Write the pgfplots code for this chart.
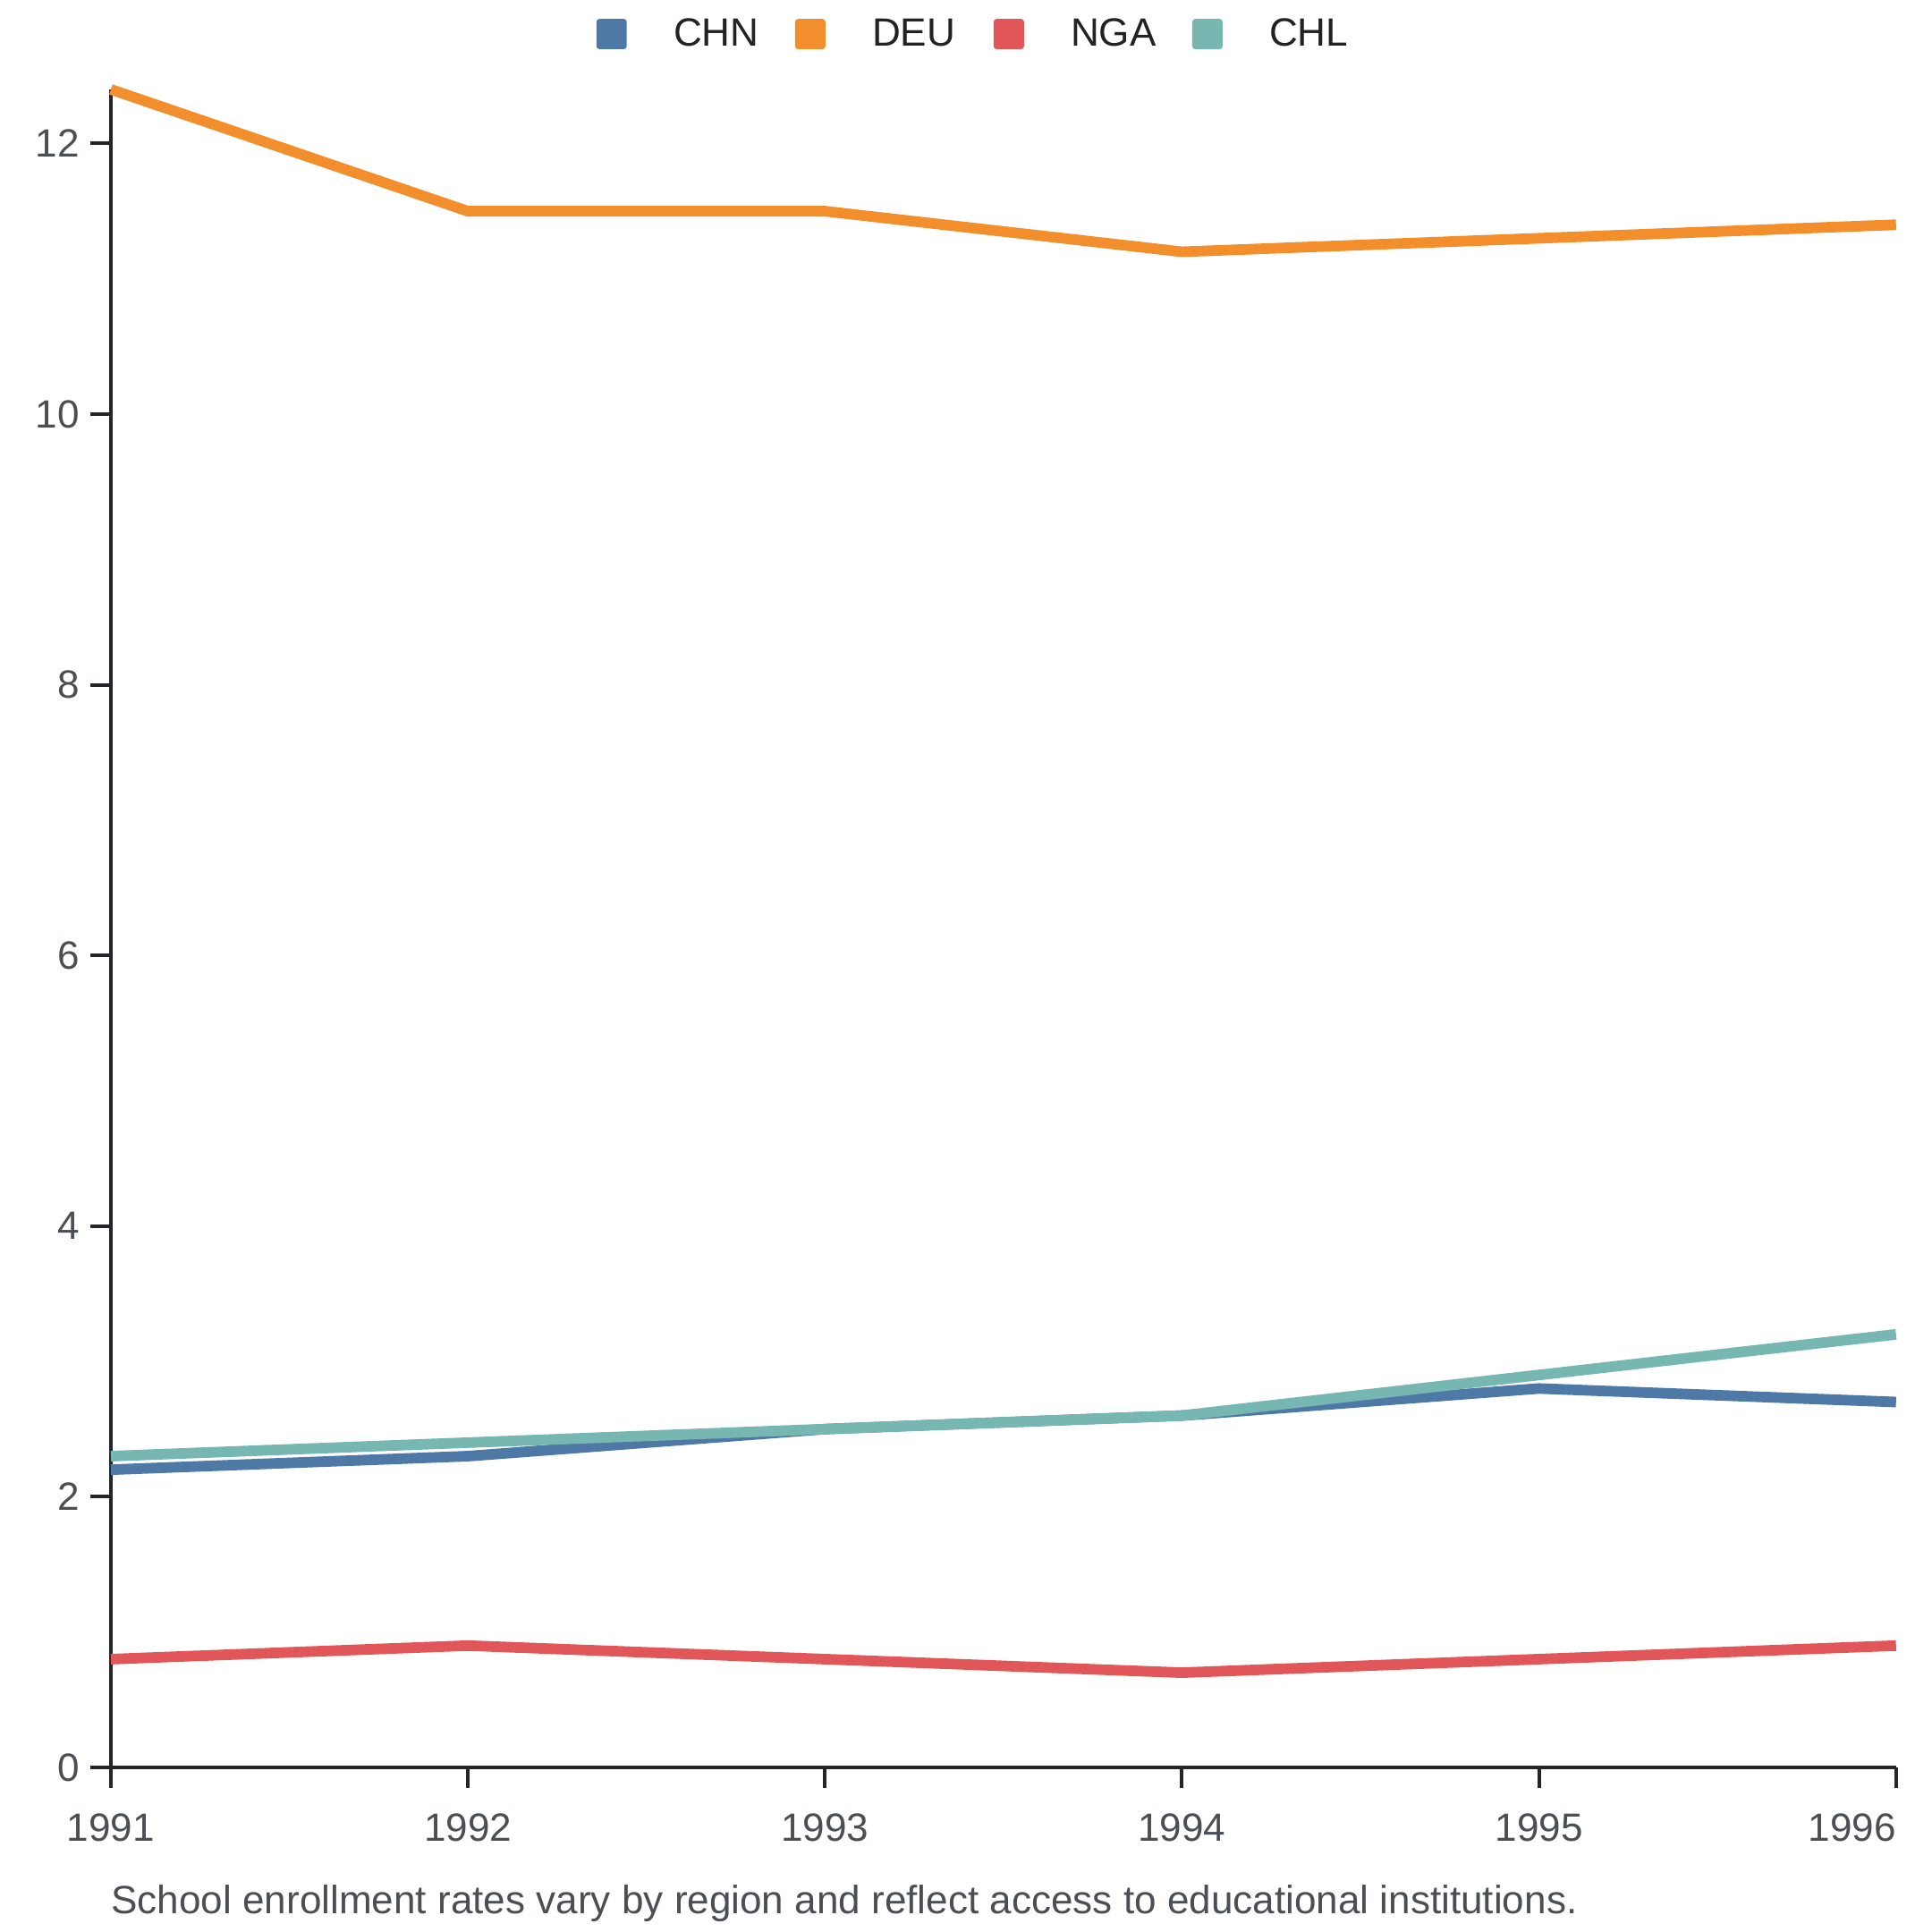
\documentclass[border=0pt]{standalone}
\usepackage{fontspec}
\setmainfont{Liberation Sans}
\usepackage{pgfplots}
\pgfplotsset{compat=1.18}
\definecolor{cCHN}{HTML}{4E79A7}
\definecolor{cDEU}{HTML}{F28E2B}
\definecolor{cNGA}{HTML}{E15759}
\definecolor{cCHL}{HTML}{76B7B2}
\definecolor{axisc}{HTML}{222529}
\definecolor{tickc}{HTML}{4A4F55}
\definecolor{legc}{HTML}{222222}
\begin{document}
\begin{tikzpicture}
\useasboundingbox (-45pt,-66.8pt) rectangle (739.1pt,717.3pt);
\begin{axis}[
  at={(0,0)}, anchor=south west,
  scale only axis, width=724.5pt, height=681pt,
  xmin=1991, xmax=1996, ymin=0, ymax=12.4,
  clip=false,
  axis lines*=left,
  axis line style={axisc, line width=1.45pt, -},
  tick align=outside,
  major tick length=8.3pt,
  tick style={axisc, line width=1.45pt},
  xtick={1991,1992,1993,1994,1995,1996},
  xticklabels={1991,1992,1993,1994,1995,\makebox[0pt][r]{1996}},
  ytick={0,2,4,6,8,10,12},
  /pgf/number format/assume math mode=true,
  tick label style={font=\fontsize{16}{19}\selectfont, text=tickc},
  xticklabel style={yshift=-7pt},
  yticklabel style={xshift=-1pt},
  legend columns=4,
  legend style={draw=none, fill=none, at={(0.272,1.033)}, anchor=west,
    inner sep=0pt, outer sep=0pt,
    font=\fontsize{16}{19}\selectfont, text=legc,
    nodes={inner sep=0pt},
    /tikz/every odd column/.append style={column sep=19pt},
    /tikz/every even column/.append style={column sep=0pt}},
  legend image code/.code={\path[fill, draw=none, rounded corners=1.2pt] (0pt,-6.15pt) rectangle (12.3pt,6.15pt);},
]
\addplot[cCHN, line width=4.3pt] coordinates {(1991,2.2) (1992,2.3) (1993,2.5) (1994,2.6) (1995,2.8) (1996,2.7)};
\addlegendentry{\makebox[49.3pt][l]{CHN}}
\addplot[cDEU, line width=4.3pt] coordinates {(1991,12.4) (1992,11.5) (1993,11.5) (1994,11.2) (1995,11.3) (1996,11.4)};
\addlegendentry{\makebox[49.3pt][l]{DEU}}
\addplot[cNGA, line width=4.3pt] coordinates {(1991,0.8) (1992,0.9) (1993,0.8) (1994,0.7) (1995,0.8) (1996,0.9)};
\addlegendentry{\makebox[49.3pt][l]{NGA}}
\addplot[cCHL, line width=4.3pt] coordinates {(1991,2.3) (1992,2.4) (1993,2.5) (1994,2.6) (1995,2.9) (1996,3.2)};
\addlegendentry{CHL}
\node[anchor=base west, inner sep=0pt, text=tickc, font=\fontsize{16}{19}\selectfont] at (rel axis cs:0,0) [yshift=-59.5pt] {School enrollment rates vary by region and reflect access to educational institutions.};
\end{axis}
\end{tikzpicture}
\end{document}
